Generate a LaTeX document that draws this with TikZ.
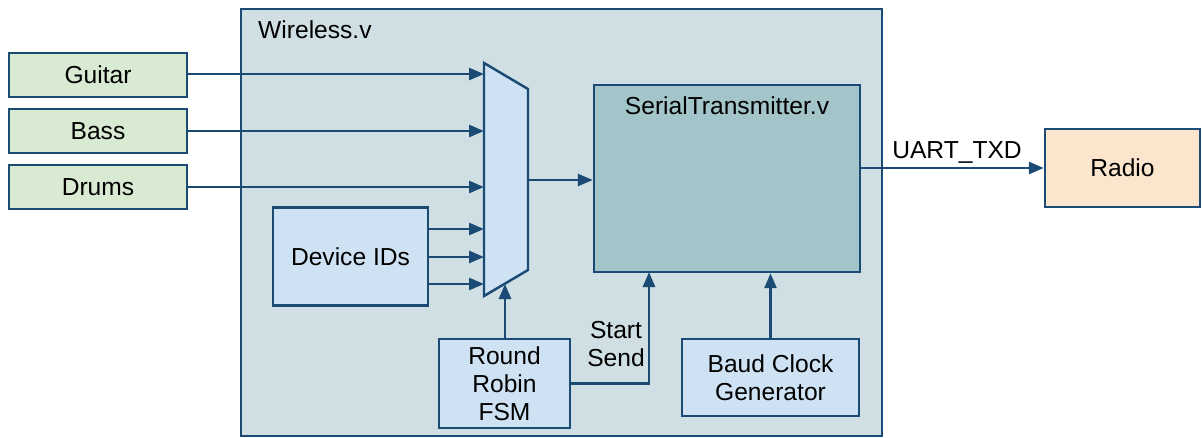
\documentclass[tikz,border=0pt]{standalone}
\usepackage{fontspec}
\setmainfont{Liberation Sans}
\usetikzlibrary{arrows.meta}
\definecolor{edge}{HTML}{1B4B75}
\definecolor{outerfill}{HTML}{D0DFE3}
\definecolor{stfill}{HTML}{A3C4C9}
\definecolor{bluefill}{HTML}{CFE2F3}
\definecolor{greenfill}{HTML}{D9EAD3}
\definecolor{peachfill}{HTML}{FCE5CD}
\begin{document}
\begin{tikzpicture}[x=0.02cm,y=-0.02cm,
  font=\fontsize{14}{16}\selectfont,
  blk/.style 2 args={draw=edge, line width=1.4pt, minimum width=#1*0.02cm,
    minimum height=#2*0.02cm, inner sep=0pt, align=center},
  wire/.style={draw=edge, line width=1.5pt, -{Triangle[length=0.3cm,width=0.24cm]}},
  plain/.style={draw=edge, line width=1.4pt}]
\useasboundingbox (0,0) rectangle (1203,437);

% enclosing module
\node[blk={641}{427}, fill=outerfill] (wireless) at (561.5,222.5) {};
\node[anchor=west] (wlabel) at (252,30) {Wireless.v};

% input sources
\node[blk={178}{44}, fill=greenfill] (guitar) at (98,75) {Guitar};
\node[blk={178}{44}, fill=greenfill] (bass) at (98,131) {Bass};
\node[blk={178}{44}, fill=greenfill] (drums) at (98,187) {Drums};

% internal blocks
\node[blk={155}{98}, fill=bluefill] (dev) at (350.5,256.5) {Device IDs};
\node[blk={131}{89}, fill=bluefill] (fsm) at (504.5,383.5) {Round\\Robin\\FSM};
\node[blk={177}{77}, fill=bluefill] (baud) at (770.5,377.5) {Baud Clock\\Generator};
\node[blk={266}{187}, fill=stfill] (st) at (727,178.5) {};
\node (stlabel) at (727,106) {SerialTransmitter.v};

% output device
\node[blk={155}{78}, fill=peachfill] (radio) at (1122.5,168) {Radio};

% multiplexer
\draw[plain, fill=bluefill, line join=miter] (484,63) -- (528,89) -- (528,270) -- (484,296) -- cycle;
\coordinate (m1) at (484,74);
\coordinate (m2) at (484,131);
\coordinate (m3) at (484,187);
\coordinate (m4) at (484,229);
\coordinate (m5) at (484,257);
\coordinate (m6) at (484,284);
\coordinate (muxout) at (528,180);
\coordinate (muxsel) at (505,284);
\coordinate (stin) at (649,272);

% connections
\draw[wire] (guitar.east |- m1) -- (m1);
\draw[wire] (bass.east |- m2) -- (m2);
\draw[wire] (drums.east |- m3) -- (m3);
\draw[wire] (dev.east |- m4) -- (m4);
\draw[wire] (dev.east |- m5) -- (m5);
\draw[wire] (dev.east |- m6) -- (m6);
\draw[wire] (muxout) -- (muxout -| st.west);
\draw[wire] (fsm.north -| muxsel) -- (muxsel);
\draw[wire] (fsm.east) -| (stin);
\draw[wire] (baud.north) -- (baud.north |- st.south);
\draw[wire] (st.east |- radio.west) -- (radio.west);

% signal labels
\node[align=center] (startsend) at (616,344) {Start\\Send};
\node (uart) at (957,152) {UART\_TXD};
\end{tikzpicture}
\end{document}
